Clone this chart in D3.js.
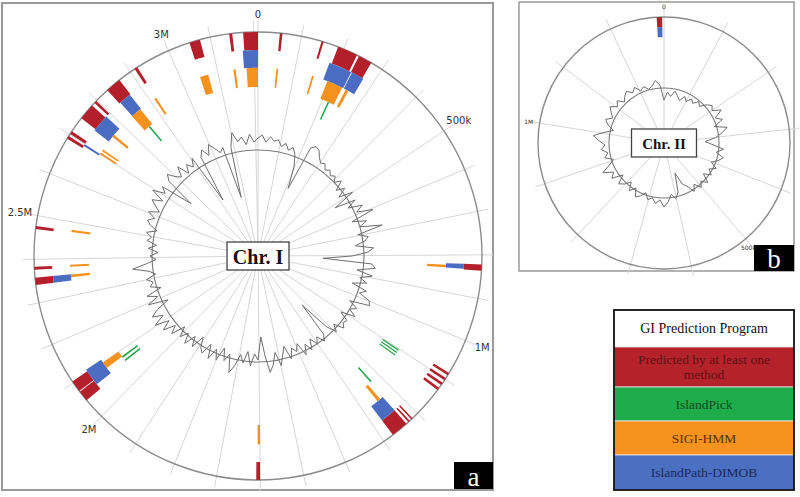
<!DOCTYPE html>
<html><head><meta charset="utf-8">
<script src="https://cdn.jsdelivr.net/npm/d3@7"></script>
<style>body{margin:0;background:#fff;} svg{display:block;}</style>
</head><body>
<svg id="chart" width="800" height="497"></svg>
<script>
// ---------------- DATA ----------------
const genomeA = 3210;   // kb, chromosome I
const genomeB = 1290;   // kb, chromosome II
const spokeStep = 100;  // kb between radial grid lines

const tickPosA = [0, 500, 1000, 2000, 2500, 3000];
const tickTextA = ["0", "500k", "1M", "2M", "2.5M", "3M"];
const tickPosB = [0, 500, 1000];
const tickTextB = ["0", "500k", "1M"];

// GI intervals [start kb, end kb]
const redA = [[3176,3210],[50,56],[147,152],[187,234],[239,271],[822,836],
  [1083,1089],[1097,1103],[1110,1116],[1124,1130],
  [1216,1220],[1225,1229],[1235,1275],[1600,1609],
  [2050,2075],[2077,2104],[2341,2358],[2376,2383],[2469,2476],
  [2689,2696],[2702,2709],[2746,2784],[2792,2798],[2833,2869],[2912,2919],[3051,3076],[3144,3151]];
const blueA = [[3172,3210],[181,240],[242,274],[822,834],[1235,1275],[2064,2109],
  [2341,2358],[2695,2700],[2742,2787],[2836,2867]];
const orangeA = [[3179,3210],[50,55],[149,154],[193,237],[248,256],[826,833],[1244,1253],
  [1599,1606],[2082,2100],[2350,2357],[2378,2384],[2473,2479],[2700,2705],[2710,2715],
  [2758,2765],[2835,2865],[2912,2918],[3050,3073],[3143,3149]];
const greenA = [[217,222],[1102,1106],[1111,1115],[1120,1124],[1228,1233],[2065,2070],[2078,2083],[2851,2856]];
const redB = [[1278,1287]];
const blueB = [[1278,1287]];

// GC profile deviation from baseline (one value every 2 degrees, chr I)
const gcA = [12,15,8,14,10,12,6,10,4,8,2,-10,-32,14,18,16,10,6,8,3,
  6,2,5,0,6,-4,4,-6,8,-15,6,-4,10,2,18,-6,8,0,22,-4,
  6,2,-8,10,4,-12,-41,8,12,-6,10,-2,6,-8,8,2,14,16,-4,6,
  0,8,-6,4,2,6,-4,3,-8,-40,-4,2,-6,0,-8,2,-6,4,-10,-3,
  -8,2,-12,-4,6,-8,4,11,-6,-25,-2,-8,4,-10,2,-6,6,14,-4,4,
  -8,6,-4,8,-6,6,2,-8,6,-4,8,-2,6,-4,10,2,14,4,18,6,
  16,8,-6,14,2,12,-4,6,2,8,-2,4,20,6,-4,2,-6,4,-4,6,
  2,8,-2,6,10,4,12,2,8,14,4,18,6,12,-21,10,16,8,4,14,
  2,10,4,12,-40,8,14,6,16,10,4,8,-45,6,20,10,14,6,16,8];
// chr II, one value every 4 degrees
const gcB = [-12,-4,-8,-2,-6,-10,-4,-8,-3,-6,-1,-4,2,6,3,11,2,8,-2,10,
  4,-3,-14,-6,5,-2,6,2,-4,3,-3,2,-5,4,-2,3,-4,2,-6,-10,
  -23,-4,2,-3,4,9,2,6,1,4,-2,3,6,-2,4,-4,2,6,-3,8,
  3,13,4,-2,6,2,8,4,10,16,6,-3,4,8,2,6,10,4,8,2,
  6,9,4,8,2,5,1,3,8,3];

const legendRows = ["GI Prediction Program", "Predicted by at least one|method", "IslandPick", "SIGI-HMM", "IslandPath-DIMOB"];

// ---------------- STYLE ----------------
const C = {red:"#b3202b", blue:"#4a6cc2", orange:"#f5921e", green:"#22a44a"};
const tracks = {red:[0.92,1.0], blue:[0.84,0.92], orange:[0.755,0.84], green:[0.67,0.755]};
const serif = "'Liberation Serif','Times New Roman',serif";

const svg = d3.select("#chart");

// panel frames
svg.append("rect").attr("x",2).attr("y",3).attr("width",491).attr("height",487)
  .attr("fill","none").attr("stroke","#9a9a9a").attr("stroke-width",2);
svg.append("rect").attr("x",519).attr("y",2).attr("width",275).attr("height",269)
  .attr("fill","none").attr("stroke","#9a9a9a").attr("stroke-width",1.5);

// panel letters (drawn first so tick labels stay visible)
[[454,462,39,27,"a"],[754,245,40,26,"b"]].forEach(([x,y,w,h,t])=>{
  svg.append("rect").attr("x",x).attr("y",y).attr("width",w).attr("height",h).attr("fill","#000");
  svg.append("text").attr("x",x+w/2).attr("y",y+h/2+1).attr("text-anchor","middle").attr("dominant-baseline","central")
    .attr("font-family",serif).attr("font-size",27).attr("fill","#fff").text(t);
});

function drawPanel(opt){
  const g = svg.append("g").attr("transform",`translate(${opt.cx},${opt.cy})`);
  const ang = d3.scaleLinear().domain([0,opt.genome]).range([0,2*Math.PI]);
  const R = opt.R;
  // spokes
  const spokes = d3.range(0, opt.genome, spokeStep);
  g.selectAll("line.spoke").data(spokes).join("line")
    .attr("x1",0).attr("y1",0)
    .attr("x2",d=>opt.spokeR*Math.sin(ang(d)))
    .attr("y2",d=>-opt.spokeR*Math.cos(ang(d)))
    .attr("stroke","#d6d6d6").attr("stroke-width",1);
  // outer circle
  g.append("circle").attr("r",R).attr("fill","none").attr("stroke","#8c8c8c").attr("stroke-width",1.4);
  // inner baseline
  g.append("circle").attr("r",opt.r0).attr("fill","none").attr("stroke","#7a7a7a").attr("stroke-width",1.1);
  // GC line
  const n = opt.gc.length;
  const rs = d3.scaleLinear().domain([-50,50]).range([opt.r0-50*opt.k, opt.r0+50*opt.k]);
  const line = d3.lineRadial().angle((d,i)=>i*2*Math.PI/n).radius(d=>rs(d)).curve(d3.curveLinearClosed);
  g.append("path").attr("d",line(opt.gc)).attr("fill","none").attr("stroke","#6e6e6e").attr("stroke-width",1);
  // GI bars
  const arc = d3.arc();
  opt.sets.forEach(([data,key])=>{
    const [a,b] = tracks[key];
    g.selectAll(null).data(data).join("path")
      .attr("d",d=>arc({innerRadius:a*R, outerRadius:b*R, startAngle:ang(d[0]), endAngle:ang(d[1])}))
      .attr("fill",C[key]);
  });
  // tick labels
  g.selectAll("text.tick").data(opt.tickPos).join("text")
    .attr("x",d=>{
      const x = opt.labelR*Math.sin(ang(d));
      return opt.endAnchorLowerRight && ang(d)>Math.PI/2 && ang(d)<Math.PI ? x+3 : x;
    })
    .attr("y",d=>-opt.labelR*Math.cos(ang(d)))
    .attr("text-anchor",d=>opt.endAnchorLowerRight && ang(d)>Math.PI/2 && ang(d)<Math.PI ? "end" : "middle")
    .attr("dominant-baseline","central")
    .attr("font-family","'DejaVu Sans',sans-serif").attr("font-size",opt.fs)
    .attr("fill","#333")
    .text((d,i)=>opt.tickText[i]);
  // center label
  g.append("rect").attr("x",-opt.bw/2).attr("y",-opt.bh/2).attr("width",opt.bw).attr("height",opt.bh)
    .attr("fill","#fff").attr("stroke","#444").attr("stroke-width",1.3);
  g.append("text").attr("text-anchor","middle").attr("dominant-baseline","central").attr("y",1)
    .attr("font-family",serif).attr("font-weight","bold").attr("font-size",opt.cfs).attr("fill","#111")
    .text(opt.name);
}

drawPanel({cx:258, cy:256, R:224, r0:106, k:1, genome:genomeA, spokeR:235, labelR:242, fs:10,
  gc:gcA, sets:[[redA,"red"],[blueA,"blue"],[orangeA,"orange"],[greenA,"green"]],
  tickPos:tickPosA, tickText:tickTextA, bw:62, bh:28, cfs:20, name:"Chr. I"});

drawPanel({cx:664, cy:143, R:126, r0:55, k:1, genome:genomeB, spokeR:136, labelR:137, fs:6,
  endAnchorLowerRight:true,
  gc:gcB, sets:[[redB,"red"],[blueB,"blue"]],
  tickPos:tickPosB, tickText:tickTextB, bw:65, bh:28, cfs:15, name:"Chr. II"});

// legend
const lg = svg.append("g").attr("transform","translate(614,310)");
const rowY = [0,37,77,111,145,180];
const rowFill = ["#ffffff","#b5222a","#1fac4b","#f6931e","#4b6fc1"];
const rowText = ["#111","#5c1214","#0e4a1d","#5e3108","#1a2a5c"];
legendRows.forEach((t,i)=>{
  lg.append("rect").attr("x",0).attr("y",rowY[i]).attr("width",180).attr("height",rowY[i+1]-rowY[i])
    .attr("fill",rowFill[i]).attr("stroke","#e8e8e8").attr("stroke-width",0.8);
  const lines = t.split("|");
  const mid = (rowY[i]+rowY[i+1])/2;
  lines.forEach((s,j)=>{
    lg.append("text").attr("x",90).attr("y",mid+(j-(lines.length-1)/2)*15)
      .attr("text-anchor","middle").attr("dominant-baseline","central")
      .attr("font-family",serif).attr("font-size",i===0?14:13.5).attr("fill",rowText[i]).text(s);
  });
});
lg.append("rect").attr("x",0).attr("y",0).attr("width",180).attr("height",180)
  .attr("fill","none").attr("stroke","#111").attr("stroke-width",1.8);
</script>
</body></html>
